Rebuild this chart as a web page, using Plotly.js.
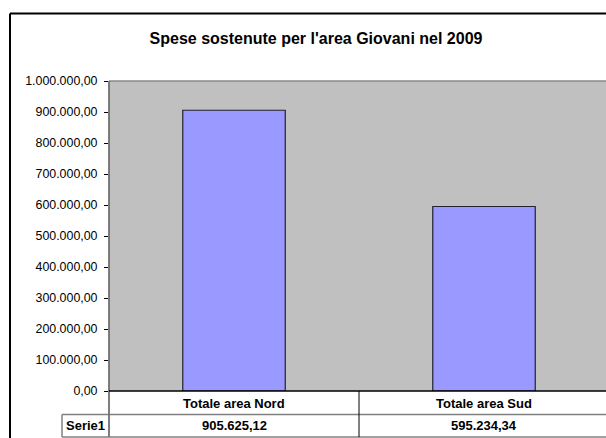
<!DOCTYPE html>
<html>
<head>
<meta charset="utf-8">
<script src="https://cdn.plot.ly/plotly-3.0.1.min.js"></script>
<style>
  html, body { margin: 0; padding: 0; background: #ffffff; }
  #chart { width: 606px; height: 438px; }
</style>
</head>
<body>
<div id="chart"></div>
<script>
// ---- data ----
const chartTitle = "Spese sostenute per l'area Giovani nel 2009";
const categories = ["Totale area Nord", "Totale area Sud"];
const seriesName = "Serie1";
const values = [905625.12, 595234.34];

// Italian number format: 905.625,12
function fmtIt(v) {
  const parts = v.toFixed(2).split(".");
  const intPart = parts[0].replace(/\B(?=(\d{3})+(?!\d))/g, ".");
  return intPart + "," + parts[1];
}

// layout geometry (pixels)
const W = 606, H = 438;
const mL = 109, mR = 0, mT = 81, mB = 47;
const plotW = W - mL - mR, plotH = H - mT - mB;
const px = x => (x - mL) / plotW;          // pixel x -> paper x
const py = y => (H - mB - y) / plotH;      // pixel y -> paper y

const FONT = "Liberation Sans, Arial, Helvetica, sans-serif";

const trace = {
  type: "bar",
  x: categories.map((c, i) => i),
  y: values,
  name: seriesName,
  width: 0.41,
  marker: { color: "#9999FF", line: { color: "#222233", width: 1.2 } },
  hoverinfo: "skip"
};

const shapes = [
  // outer chart border (cropped at right/bottom)
  { type: "line", xref: "paper", yref: "paper", x0: px(10), x1: px(10), y0: py(13.5), y1: py(440), line: { color: "#000", width: 2 } },
  { type: "line", xref: "paper", yref: "paper", x0: px(10), x1: px(610), y0: py(13.5), y1: py(13.5), line: { color: "#000", width: 2 } },
  // plot area top border
  { type: "line", xref: "paper", yref: "paper", x0: 0, x1: 1.02, y0: 1, y1: 1, line: { color: "#8a8a8a", width: 1.5 } },
  // table row lines
  { type: "line", xref: "paper", yref: "paper", x0: px(62), x1: 1.02, y0: py(414.5), y1: py(414.5), line: { color: "#808080", width: 1.5 } },
  { type: "line", xref: "paper", yref: "paper", x0: px(62), x1: 1.02, y0: py(437), y1: py(437), line: { color: "#808080", width: 1.5 } },
  // Serie1 cell left border
  { type: "line", xref: "paper", yref: "paper", x0: px(62), x1: px(62), y0: py(414.5), y1: py(437), line: { color: "#808080", width: 1.5 } },
  // category divider in table
  { type: "line", xref: "x", yref: "paper", x0: 0.5, x1: 0.5, y0: 0, y1: py(437), line: { color: "#000", width: 1 } },
  // y axis line extending through table
  { type: "line", xref: "paper", yref: "paper", x0: 0, x1: 0, y0: 1, y1: py(437), line: { color: "#707070", width: 1.8 } },
  // x axis (zero) line
  { type: "line", xref: "paper", yref: "paper", x0: 0, x1: 1.02, y0: 0, y1: 0, line: { color: "#000", width: 1.5 } }
];

const TBL = 13;
const annotations = [];
categories.forEach((c, i) => {
  annotations.push({ xref: "x", yref: "paper", x: i, y: py(403), text: "<b>" + c + "</b>",
    showarrow: false, xanchor: "center", yanchor: "middle", font: { family: FONT, size: TBL, color: "#000" } });
  annotations.push({ xref: "x", yref: "paper", x: i, y: py(426), text: "<b>" + fmtIt(values[i]) + "</b>",
    showarrow: false, xanchor: "center", yanchor: "middle", font: { family: FONT, size: TBL, color: "#000" } });
});
annotations.push({ xref: "paper", yref: "paper", x: px(85), y: py(426), text: "<b>" + seriesName + "</b>",
  showarrow: false, xanchor: "center", yanchor: "middle", font: { family: FONT, size: TBL, color: "#000" } });

const layout = {
  width: W, height: H,
  margin: { l: mL, r: mR, t: mT, b: mB, pad: 0 },
  paper_bgcolor: "#ffffff",
  plot_bgcolor: "#C0C0C0",
  separators: ",.",
  showlegend: false,
  title: {
    text: "<b>" + chartTitle + "</b>",
    x: 316 / W, xref: "container", xanchor: "center",
    y: 1 - 38 / H, yref: "container", yanchor: "middle",
    font: { family: FONT, size: 16, color: "#000" }
  },
  xaxis: {
    range: [-0.5, -0.5 + plotW / 250],
    showticklabels: false, ticks: "", showgrid: false, zeroline: false, showline: false,
    fixedrange: true
  },
  yaxis: {
    range: [0, 1000000], dtick: 100000, tick0: 0,
    tickformat: ",.2f",
    ticks: "outside", ticklen: 4, tickwidth: 1, tickcolor: "#000",
    ticklabelstandoff: 4,
    showgrid: false, zeroline: false, showline: false,
    tickfont: { family: FONT, size: 12.4, color: "#000" },
    fixedrange: true
  },
  shapes: shapes,
  annotations: annotations
};

Plotly.newPlot("chart", [trace], layout, { displayModeBar: false, staticPlot: true });
</script>
</body>
</html>
